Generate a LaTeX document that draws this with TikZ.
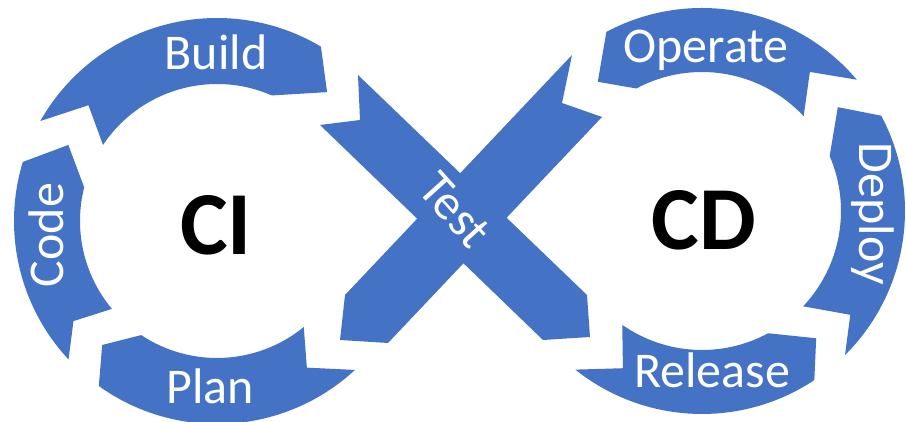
\documentclass[tikz,border=0pt]{standalone}
\usepackage{fontspec}
\newfontfamily\calibri{Carlito}
\definecolor{segblue}{HTML}{4472C4}
\begin{document}
\begin{tikzpicture}[x=1pt,y=1pt,
  seg/.style={fill=segblue, draw=none},
  lbl/.style={text=white, font=\calibri\fontsize{50}{60}\selectfont, inner sep=0pt},
  big/.style={text=black, font=\calibri\bfseries\fontsize{90}{100}\selectfont, inner sep=0pt}]
\fill[white] (0,0) rectangle (906,422);
\useasboundingbox (0,0) rectangle (906,422);

% ---------- left ring (CI) ----------
\begin{scope}[shift={(217,201)}]
  % Build
  \fill[seg] (150.5:203pt) arc[start angle=150.5, end angle=59.2, radius=203pt]
    -- (49.5:169.5pt) -- (66.4:137pt) arc[start angle=66.4, end angle=146.3, radius=137pt]
    -- (138:173pt) -- cycle;
  % Code
  \fill[seg] (223:203pt) arc[start angle=223, end angle=163.1, radius=203pt]
    -- (152.9:167pt) -- (165.8:137pt) arc[start angle=165.8, end angle=219.9, radius=137pt]
    -- (214.9:175pt) -- cycle;
  % Plan
  \fill[seg] (312.8:203pt) arc[start angle=312.8, end angle=234.4, radius=203pt]
    -- (227.2:169pt) -- (236.4:137pt) arc[start angle=236.4, end angle=309.3, radius=137pt]
    -- (301.5:172pt) -- cycle;
\end{scope}

% ---------- right ring (CD) ----------
\begin{scope}[shift={(702,211)}]
  % Operate
  \fill[seg] (40.3:203pt) arc[start angle=40.3, end angle=118.1, radius=203pt]
    -- (128.9:166pt) -- (118.2:139pt) arc[start angle=118.2, end angle=43, radius=139pt]
    -- (52.2:176pt) -- cycle;
  % Deploy
  \fill[seg] (-45.2:203pt) arc[start angle=-45.2, end angle=28, radius=203pt]
    -- (37.4:171pt) -- (23.3:139pt) arc[start angle=23.3, end angle=-43.3, radius=139pt]
    -- (-35:181pt) -- cycle;
  % Release
  \fill[seg] (231.4:203pt) arc[start angle=231.4, end angle=303.6, radius=203pt]
    -- (311.9:171pt) -- (298.4:139pt) arc[start angle=298.4, end angle=235, radius=139pt]
    -- (243.3:176pt) -- cycle;
\end{scope}

% ---------- Test cross ----------
\fill[seg] (358,347) -- (360,302) -- (320,297) -- (543,82) -- (590,85) -- (587,127) -- cycle;
\fill[seg] (572,367) -- (562,319) -- (602,305) -- (388,79) -- (340,82) -- (345,127) -- cycle;

% ---------- labels ----------
\node[lbl, anchor=base] (build) at (216,352) {Build};
\node[lbl, anchor=base, rotate=90] (code) at (63,187) {Code};
\node[lbl, anchor=base] (plan) at (210,18) {Plan};
\node[lbl, anchor=base] (operate) at (706,359) {Operate};
\node[lbl, anchor=base, rotate=-90] (deploy) at (859,208) {Deploy};
\node[lbl, anchor=base] (release) at (712,34) {Release};
\node[lbl, rotate=-48] (test) at (455,212) {Test};
\node[big] (ci) at (216,197) {CI};
\node[big] (cd) at (704,202) {CD};
\end{tikzpicture}
\end{document}
